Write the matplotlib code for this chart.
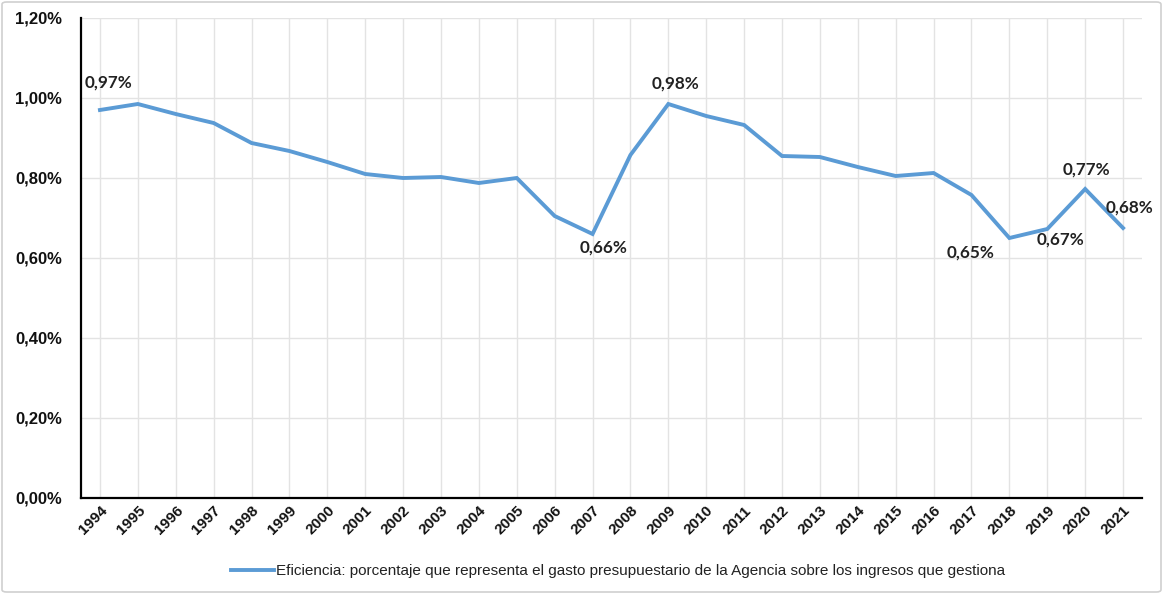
import matplotlib
matplotlib.use("Agg")
import matplotlib.pyplot as plt
from matplotlib.patches import FancyBboxPatch
from matplotlib.ticker import FuncFormatter, MultipleLocator

years = [str(y) for y in range(1994, 2022)]
values = [0.97, 0.985, 0.96, 0.9375, 0.8875, 0.8675, 0.84, 0.81, 0.80, 0.8025,
          0.7875, 0.80, 0.705, 0.66, 0.8575, 0.985, 0.955, 0.9325, 0.855, 0.8525,
          0.8275, 0.805, 0.8125, 0.7575, 0.65, 0.6725, 0.7725, 0.675]
label_years = ["1994", "2007", "2009", "2018", "2019", "2020", "2021"]
label_texts = ["0,97%", "0,66%", "0,98%", "0,65%", "0,67%", "0,77%", "0,68%"]
label_offsets = [(9, 27), (11, -14), (7, 20), (-39, -15), (13, -11), (1, 19), (6, 20)]
series_name = "Eficiencia: porcentaje que representa el gasto presupuestario de la Agencia sobre los ingresos que gestiona"

W, H = 1163, 594
fig = plt.figure(figsize=(W / 100, H / 100), dpi=100)
fig.patch.set_facecolor("white")
fig.patches.append(FancyBboxPatch((2 / W, 2 / H), 1 - 4 / W, 1 - 4 / H,
                                  boxstyle="round,pad=0,rounding_size=0.004",
                                  transform=fig.transFigure, facecolor="none",
                                  edgecolor="#d0d0d0", linewidth=1.2))

ax = fig.add_axes([81 / W, (H - 498) / H, (1142 - 81) / W, (498 - 18) / H])
x = list(range(len(years)))
line, = ax.plot(x, values, color="#5B9BD5", linewidth=2.8, solid_joinstyle="miter",
                label=series_name, zorder=3)

ax.set_xlim(-0.5, len(years) - 0.5)
ax.set_ylim(0, 1.2)
ax.yaxis.set_major_locator(MultipleLocator(0.2))
ax.yaxis.set_major_formatter(FuncFormatter(lambda v, p: f"{v:.2f}%".replace(".", ",")))
ax.set_xticks(x)
ax.set_xticklabels(years, rotation=45, ha="right", rotation_mode="anchor")

for lab in ax.get_yticklabels():
    lab.set_fontfamily("Liberation Sans")
    lab.set_fontweight("bold")
    lab.set_fontsize(12)
    lab.set_color("#111111")
for lab in ax.get_xticklabels():
    lab.set_fontfamily("Liberation Sans")
    lab.set_fontweight("bold")
    lab.set_fontsize(11)
    lab.set_color("#111111")
ax.tick_params(axis="y", length=0, pad=13.5)
ax.tick_params(axis="x", length=0, pad=4)

ax.grid(True, color="#e3e3e3", linewidth=1.0, zorder=0)
ax.set_axisbelow(True)
for s in ["top", "right"]:
    ax.spines[s].set_visible(False)
for s in ["left", "bottom"]:
    ax.spines[s].set_color("#000000")
    ax.spines[s].set_linewidth(1.6)

for yr, txt, off in zip(label_years, label_texts, label_offsets):
    i = years.index(yr)
    ax.annotate(txt, (i, values[i]), xytext=off, textcoords="offset pixels",
                ha="center", va="center", fontsize=12.3, fontweight="bold",
                family="Lato", color="#222222", zorder=4)

leg = fig.legend(handles=[line], loc="center", bbox_to_anchor=(618 / W, 1 - 571 / H),
                 frameon=False, handlelength=2.8, handletextpad=0.15,
                 prop={"family": "Liberation Sans", "size": 11})
for t in leg.get_texts():
    t.set_color("#222222")

fig.savefig("out.png", dpi=100, facecolor="white")
